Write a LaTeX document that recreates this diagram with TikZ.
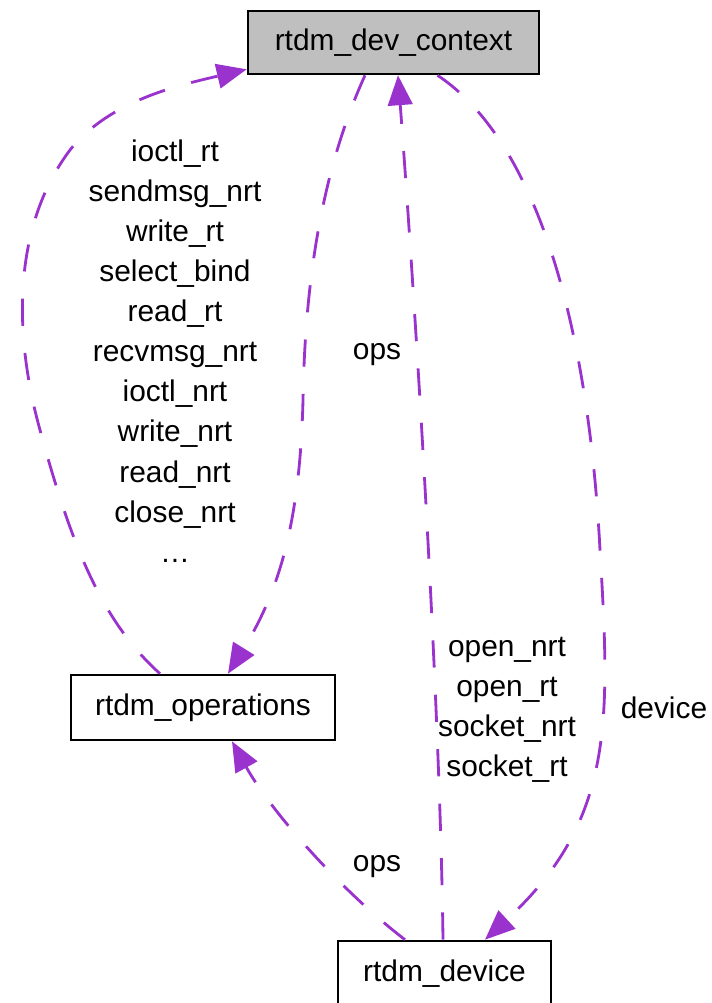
\documentclass[tikz,border=0pt]{standalone}
\usepackage{fontspec}
\setmainfont{Liberation Sans}
\usetikzlibrary{arrows.meta,calc}
\definecolor{edgepurple}{RGB}{154,50,205}
\definecolor{ctxgray}{RGB}{191,191,191}

\begin{document}
\begin{tikzpicture}[x=0.02cm, y=-0.02cm,
		classbox/.style={draw, line width=1.5pt, inner sep=0pt, font=\fontsize{17}{20}\selectfont},
		link/.style={draw=edgepurple, line width=1.6pt, dash pattern=on 15.5pt off 15.5pt, -{Triangle[length=17pt,width=14pt]}, edgepurple},
		lbl/.style={align=center, inner sep=0pt, font=\fontsize{17}{22.8}\selectfont}]
				\useasboundingbox (0,0) rectangle (711,1003);
				\node[classbox, fill=ctxgray, minimum width=291*0.02cm, minimum height=63*0.02cm] (ctx)at(393.5, 42.5) {rtdm\_dev\_context};
				\node[classbox, fill=white, minimum width=264*0.02cm, minimum height=65*0.02cm] (ops)at(203, 707.5) {rtdm\_operations};
				\node[classbox, fill=white, minimum width=213*0.02cm, minimum height=65*0.02cm] (dev)at(444.5, 973.5) {rtdm\_device};
				\draw[link] ($(ops.north)+(-43,0)$) .. controls (100,620) and (70,540) .. (40,430) .. controls (15,340) and (10,230) .. (70,150) .. controls (110,100) and (180,85) .. ($(ctx.south west)+(0,-6)$);
				\draw[link] ($(ctx.south)+(-28.5,0)$) .. controls (322,170) and (305,280) .. (303,400) .. controls (300,520) and (280,590) .. ($(ops.north)+(25,0)$);
				\draw[link] ($(dev.north)+(-1.5,0)$) .. controls (440,700) and (415,300) .. ($(ctx.south)+(4.5,0)$);
				\draw[link] ($(ctx.south)+(44,0)$) .. controls (535,140) and (588,320) .. (600,550) .. controls (610,720) and (615,820) .. ($(dev.north)+(40.5,0)$);
				\draw[link] ($(dev.north)+(-39.5,0)$) .. controls (340,890) and (270,810) .. ($(ops.south)+(29,0)$);
				\node[lbl] (opsfields)at(175, 351) {ioctl\_rt\\sendmsg\_nrt\\write\_rt\\select\_bind\\read\_rt\\recvmsg\_nrt\\ioctl\_nrt\\write\_nrt\\read\_nrt\\close\_nrt\\…};
				\node[lbl] (opsA)at(377, 355) {ops};
				\node[lbl] (devfields)at(507, 710) {open\_nrt\\open\_rt\\socket\_nrt\\socket\_rt};
				\node[lbl] (devlbl)at(664, 708) {device};
				\node[lbl] (opsB)at(377, 867) {ops};
			\end{tikzpicture}
\end{document}
